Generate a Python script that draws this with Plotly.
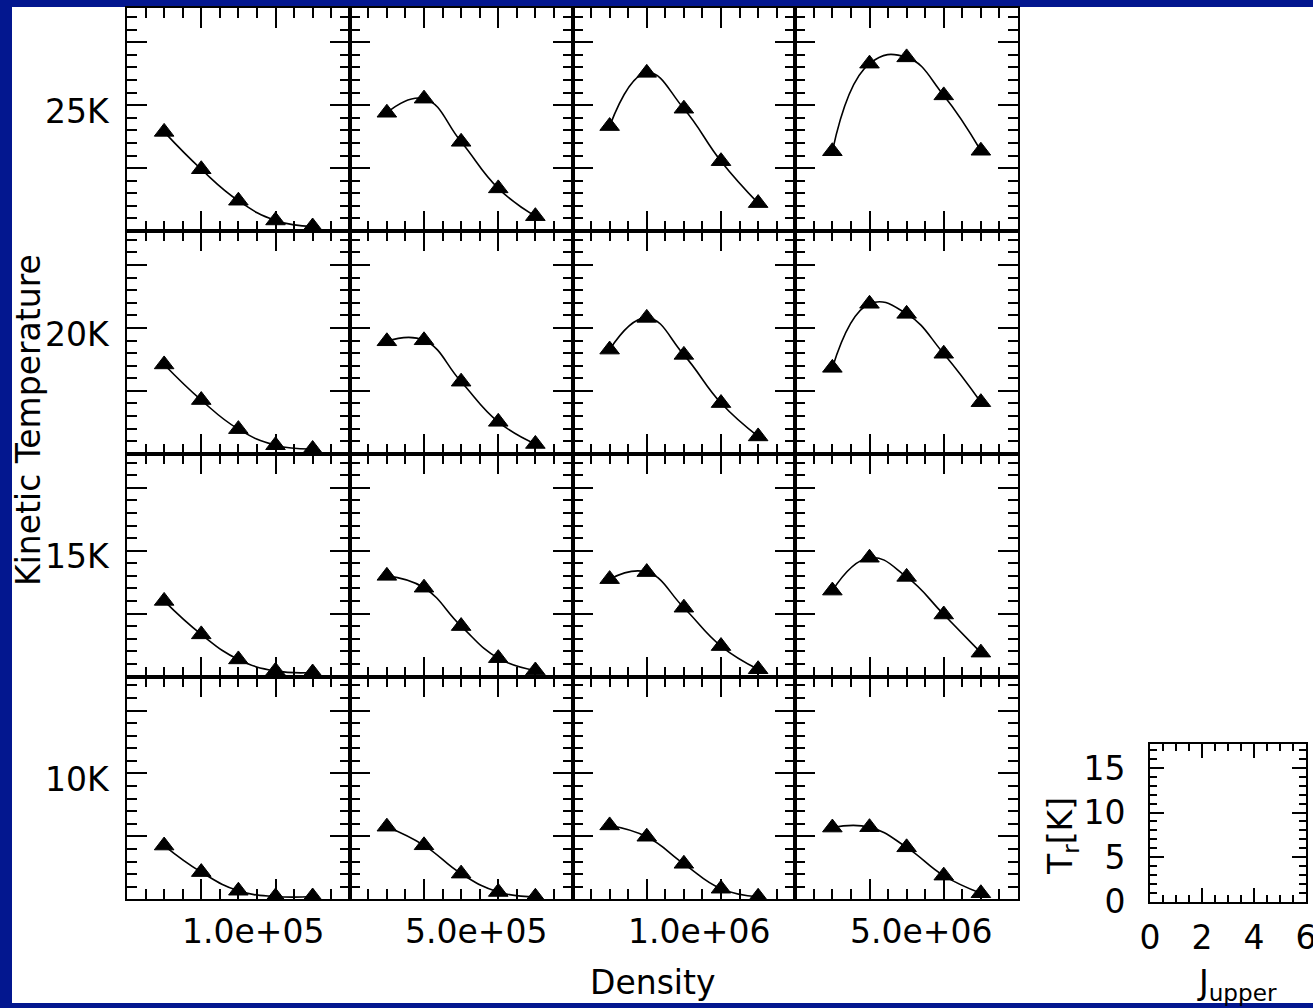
import plotly.graph_objects as go

# ---------------- data ----------------
j_upper = [1, 2, 3, 4, 5]
density_labels = ["1.0e+05", "5.0e+05", "1.0e+06", "5.0e+06"]
tkin_labels = ["25K", "20K", "15K", "10K"]

# radiation temperature Tr[K] per density column (rows: kinetic temperature)
tr_25k = [
    [7.88, 4.91, 2.41, 0.84, 0.36],
    [9.40, 10.52, 7.09, 3.39, 1.18],
    [8.34, 12.57, 9.72, 5.55, 2.22],
    [6.34, 13.30, 13.80, 10.78, 6.38],
]
tr_20k = [
    [7.10, 4.27, 1.96, 0.68, 0.38],
    [8.94, 9.02, 5.73, 2.54, 0.78],
    [8.28, 10.80, 7.86, 4.03, 1.38],
    [6.83, 11.92, 11.12, 7.95, 4.10],
]
tr_15k = [
    [6.01, 3.35, 1.36, 0.45, 0.32],
    [8.00, 7.06, 4.01, 1.46, 0.48],
    [7.74, 8.30, 5.47, 2.42, 0.58],
    [6.83, 9.44, 7.92, 4.93, 1.90],
]
tr_10k = [
    [4.27, 2.16, 0.68, 0.22, 0.22],
    [5.77, 4.29, 2.04, 0.58, 0.20],
    [5.87, 4.97, 2.82, 0.84, 0.20],
    [5.70, 5.73, 4.13, 1.88, 0.48],
]
rows = [tr_25k, tr_20k, tr_15k, tr_10k]

x_range = [0, 6]
y_range = [0, 17.7]

# ---------------- layout geometry ----------------
W, H = 1313, 1008
grid_left, grid_top, cell = 127.0, 8.3, 222.75
FONT = "DejaVu Sans ExtraLight, DejaVu Sans"
FS = 33
BLUE = "#03178f"

fig = go.Figure()
layout = {}


def axis_common(major, minor, ticklen, minorlen, show_labels=False):
    return dict(
        showline=True, linewidth=2, linecolor="black", mirror="allticks",
        ticks="inside", ticklen=ticklen, tickwidth=2, tickcolor="black",
        dtick=major, tick0=0, showgrid=False, zeroline=False,
        showticklabels=show_labels, fixedrange=True,
        minor=dict(ticks="inside", dtick=minor, tick0=0, ticklen=minorlen,
                   tickwidth=2, tickcolor="black", showgrid=False),
        tickfont=dict(family=FONT, size=FS, color="black"),
    )


annotations = []
for r in range(4):
    for c in range(4):
        idx = r * 4 + c + 1
        sfx = "" if idx == 1 else str(idx)
        x0 = grid_left + c * cell
        y0 = grid_top + r * cell
        xa = axis_common(2, 0.5, 20, 10)
        xa.update(range=x_range, domain=[x0 / W, (x0 + cell) / W], anchor="y" + sfx)
        ya = axis_common(5, 1, 20, 10)
        ya.update(range=y_range, domain=[1 - (y0 + cell) / H, 1 - y0 / H], anchor="x" + sfx)
        layout["xaxis" + sfx] = xa
        layout["yaxis" + sfx] = ya
        fig.add_trace(go.Scatter(
            x=j_upper, y=rows[r][c], xaxis="x" + sfx, yaxis="y" + sfx,
            mode="lines+markers",
            line=dict(color="black", width=1.6, shape="spline", smoothing=1.3),
            marker=dict(symbol="triangle-up", size=17, color="black",
                        line=dict(color="black", width=1)),
            showlegend=False, hoverinfo="skip",
        ))
        if c == 0:
            annotations.append(dict(
                text=tkin_labels[r], xref="paper", x=112 / W, xanchor="right",
                yref="y" + sfx, y=9.5, yanchor="middle", showarrow=False,
                font=dict(family=FONT, size=FS, color="black")))
        if r == 3:
            annotations.append(dict(
                text=density_labels[c], xref="x" + sfx, x=3.4, xanchor="center",
                yref="paper", y=1 - 931 / H, yanchor="middle", showarrow=False,
                font=dict(family=FONT, size=FS, color="black")))

# inset key axes (Tr vs J_upper)
ix0, ix1, iy0, iy1 = 1150, 1306, 744, 901.5
xa = axis_common(2, 0.5, 14, 7, show_labels=True)
xa.update(range=x_range, domain=[ix0 / W, ix1 / W], anchor="y17",
          tickvals=[0, 2, 4, 6], ticklabelstandoff=6, ticklabeloverflow="allow")
ya = axis_common(5, 1, 14, 7, show_labels=True)
ya.update(range=y_range, domain=[1 - iy1 / H, 1 - iy0 / H], anchor="x17",
          tickvals=[0, 5, 10, 15], ticklabelstandoff=16, ticklabeloverflow="allow")
layout["xaxis17"] = xa
layout["yaxis17"] = ya
fig.add_trace(go.Scatter(x=[], y=[], xaxis="x17", yaxis="y17", showlegend=False))

annotations += [
    dict(text="Kinetic Temperature", xref="paper", yref="paper",
         x=28 / W, y=1 - 420 / H, textangle=-90, showarrow=False,
         xanchor="center", yanchor="middle",
         font=dict(family=FONT, size=FS, color="black")),
    dict(text="Density", xref="paper", yref="paper",
         x=652 / W, y=1 - 982 / H, showarrow=False,
         xanchor="center", yanchor="middle",
         font=dict(family=FONT, size=FS, color="black")),
    dict(text="T<sub>r</sub>[K]", xref="paper", yref="paper",
         x=1062 / W, y=1 - 836 / H, textangle=-90, showarrow=False,
         xanchor="center", yanchor="middle",
         font=dict(family=FONT, size=FS, color="black")),
    dict(text="J<sub>upper</sub>", xref="paper", yref="paper",
         x=1237 / W, y=1 - 984 / H, showarrow=False,
         xanchor="center", yanchor="middle",
         font=dict(family=FONT, size=FS, color="black")),
]

fig.update_layout(
    width=W, height=H, margin=dict(l=0, r=0, t=0, b=0, autoexpand=False),
    paper_bgcolor=BLUE, plot_bgcolor="white",
    annotations=annotations,
    shapes=[dict(type="rect", xref="paper", yref="paper", layer="below",
                 x0=12 / W, x1=1.0, y0=1 - 1003 / H, y1=1 - 7 / H,
                 fillcolor="white", line=dict(width=0))],
    **layout,
)

fig.write_html("out.html", config=dict(displayModeBar=False))
